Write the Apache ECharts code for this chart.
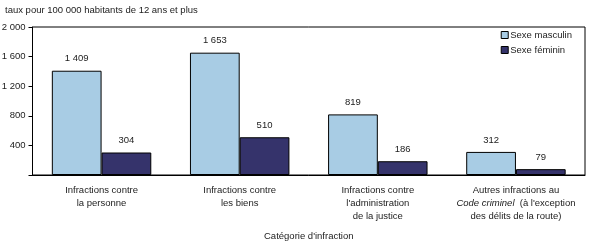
<!DOCTYPE html>
<html><head><meta charset="utf-8">
<script src="https://cdn.jsdelivr.net/npm/echarts@6/dist/echarts.min.js"></script>
<style>html,body{margin:0;padding:0;background:#fff}#c{width:590px;height:242px}</style>
</head><body><div id="c"></div>
<script>
const categories = [
  "Infractions contre\nla personne",
  "Infractions contre\nles biens",
  "Infractions contre\nl'administration\nde la justice",
  "Autres infractions au\n{i|Code criminel}  (à l'exception\ndes délits de la route)"
];
const maleValues = [1409, 1653, 819, 312];
const femaleValues = [304, 510, 186, 79];
const seriesNames = ["Sexe masculin", "Sexe féminin"];
const yTicks = [0, 400, 800, 1200, 1600, 2000];
const yTitle = "taux pour 100 000 habitants de 12 ans et plus";
const xTitle = "Catégorie d'infraction";

const fmt = v => String(v).replace(/\B(?=(\d{3})+(?!\d))/g, " ");
const FONT = "Liberation Sans, Arial, sans-serif";
const FS = 9.5;
const TC = '#222';
const chart = echarts.init(document.getElementById('c'));
chart.setOption({
  animation: false,
  textStyle: {fontFamily: FONT, color: TC},
  grid: {left: 32.5, right: 5, top: 27, bottom: 67, containLabel: false, outerBoundsMode: 'none',
         show: true, borderColor: '#000', borderWidth: 1},
  title: {text: yTitle, left: 0, top: 0, textStyle: {fontSize: FS, fontWeight: 'normal', color: TC, fontFamily: FONT}},
  legend: {
    orient: 'vertical', right: 18, top: 30, padding: 0, itemWidth: 7, itemHeight: 7, itemGap: 5,
    icon: 'rect', itemStyle: {borderColor: '#000', borderWidth: 1},
    textStyle: {fontSize: FS, color: TC, fontFamily: FONT, padding: [0,0,0,-3]},
    data: seriesNames
  },
  xAxis: {
    type: 'category', data: categories,
    axisLine: {lineStyle: {color: '#000', width: 1}}, axisTick: {show: false},
    axisLabel: {interval: 0, margin: 9, fontSize: FS, lineHeight: 13, color: TC, fontFamily: FONT,
      rich: {i: {fontStyle: 'italic', fontSize: FS, color: TC, fontFamily: FONT, lineHeight: 13}}},
    name: xTitle, nameLocation: 'middle', nameGap: 56,
    nameTextStyle: {fontSize: FS, color: TC, fontFamily: FONT}
  },
  yAxis: {
    type: 'value', min: yTicks[0], max: yTicks[yTicks.length-1], interval: 400,
    splitLine: {show: false},
    axisLine: {show: true, lineStyle: {color: '#000'}},
    axisTick: {show: true, length: 4, lineStyle: {color: '#000'}},
    axisLabel: {fontSize: FS, color: TC, fontFamily: FONT, margin: 7,
      formatter: v => v === 0 ? '' : fmt(v)}
  },
  series: [
    {name: seriesNames[0], type: 'bar', data: maleValues, barCategoryGap: '28%', barGap: '0%',
     itemStyle: {color: '#a8cce4', borderColor: '#000', borderWidth: 1},
     label: {show: true, position: 'top', distance: 7, fontSize: FS, color: TC, fontFamily: FONT, formatter: p => fmt(p.value)}},
    {name: seriesNames[1], type: 'bar', data: femaleValues, barCategoryGap: '28%', barGap: '0%',
     itemStyle: {color: '#35336b', borderColor: '#000', borderWidth: 1},
     label: {show: true, position: 'top', distance: 7, fontSize: FS, color: TC, fontFamily: FONT, formatter: p => fmt(p.value)}}
  ]
});
</script></body></html>
